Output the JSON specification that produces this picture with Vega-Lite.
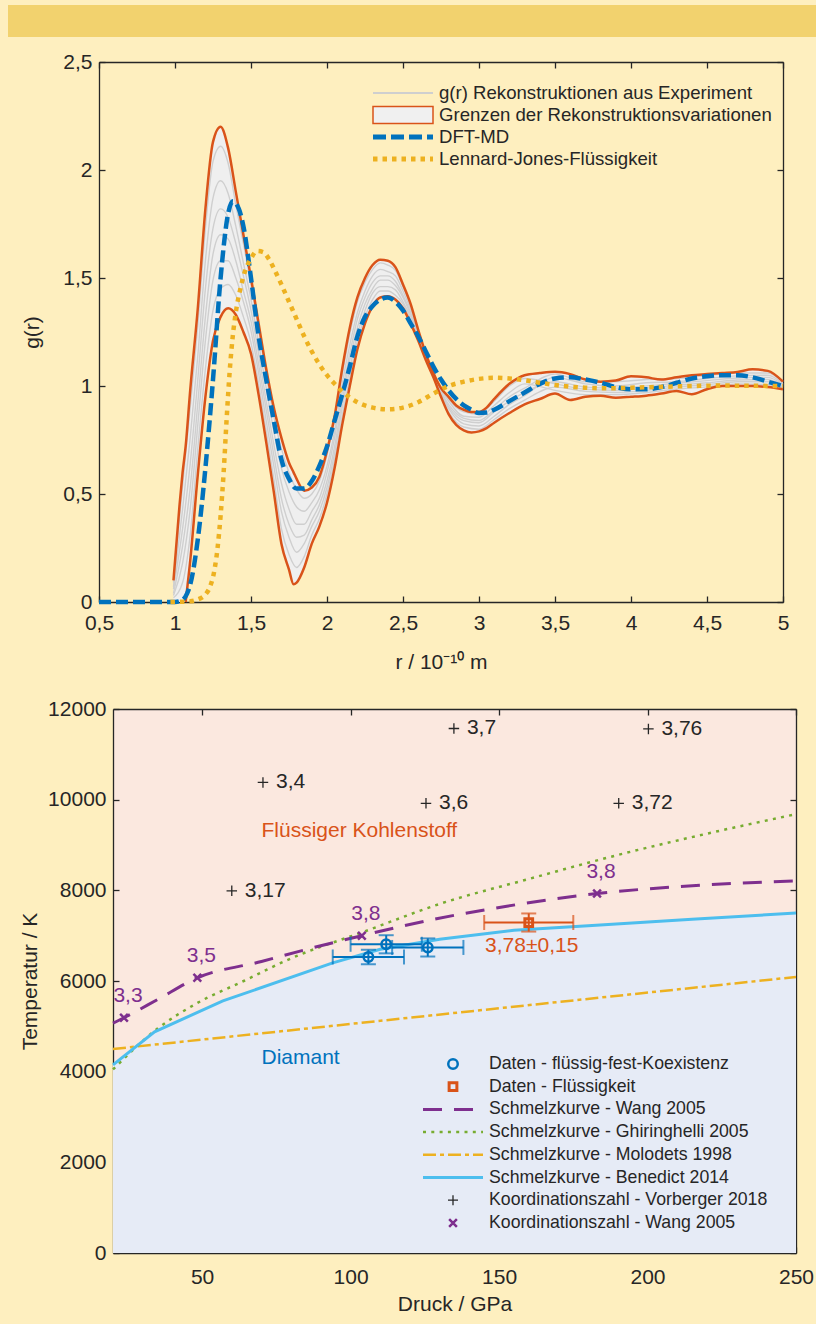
{
  "$schema": "https://vega.github.io/schema/vega-lite/v6.json",
  "background": "#feefbf",
  "padding": {"left": 8, "top": 5, "right": 0, "bottom": 14},
  "spacing": 14,
  "resolve": {"scale": {"color": "independent"}, "legend": {"color": "independent"}},
  "config": {
    "font": "Liberation Sans",
    "view": {"stroke": null},
    "axis": {"labelFont": "Liberation Sans", "titleFont": "Liberation Sans", "labelColor": "#262626", "titleColor": "#262626", "domainColor": "#262626", "tickColor": "#262626", "titleFontWeight": "normal", "grid": false, "domainWidth": 1.3, "tickWidth": 1.3, "tickSize": -6, "labelFontSize": 21, "titleFontSize": 21, "labelPadding": 13, "labelFlush": false}
  },
  "datasets": {
    "env": [
      {"r":0.99,"u":0.10,"l":0},{"r":1.03,"u":0.45,"l":0},{"r":1.05,"u":0.60,"l":0},{"r":1.07,"u":0.72,"l":0},
      {"r":1.1,"u":0.98,"l":0.19},{"r":1.15,"u":1.36,"l":0.59},{"r":1.2,"u":1.82,"l":0.95},{"r":1.25,"u":2.13,"l":1.21},
      {"r":1.3,"u":2.20,"l":1.32},{"r":1.35,"u":2.10,"l":1.36},{"r":1.4,"u":1.90,"l":1.33},{"r":1.45,"u":1.70,"l":1.25},
      {"r":1.5,"u":1.50,"l":1.15},{"r":1.55,"u":1.29,"l":0.96},{"r":1.6,"u":1.08,"l":0.74},{"r":1.65,"u":0.90,"l":0.51},
      {"r":1.7,"u":0.76,"l":0.27},{"r":1.75,"u":0.645,"l":0.15},{"r":1.78,"u":0.60,"l":0.082},{"r":1.8,"u":0.57,"l":0.09},
      {"r":1.85,"u":0.515,"l":0.16},{"r":1.9,"u":0.53,"l":0.27},{"r":1.95,"u":0.58,"l":0.35},{"r":2.0,"u":0.70,"l":0.46},
      {"r":2.05,"u":0.86,"l":0.62},{"r":2.1,"u":1.08,"l":0.82},{"r":2.15,"u":1.27,"l":1.0},{"r":2.2,"u":1.41,"l":1.17},
      {"r":2.25,"u":1.50,"l":1.29},{"r":2.3,"u":1.56,"l":1.37},{"r":2.35,"u":1.585,"l":1.41},{"r":2.4,"u":1.58,"l":1.415},
      {"r":2.45,"u":1.55,"l":1.40},{"r":2.5,"u":1.47,"l":1.36},{"r":2.55,"u":1.38,"l":1.29},{"r":2.6,"u":1.26,"l":1.21},
      {"r":2.65,"u":1.15,"l":1.12},{"r":2.7,"u":1.06,"l":1.04},{"r":2.75,"u":0.99,"l":0.95},{"r":2.8,"u":0.95,"l":0.87},
      {"r":2.85,"u":0.91,"l":0.82},{"r":2.9,"u":0.89,"l":0.795},{"r":2.95,"u":0.88,"l":0.785},{"r":3.0,"u":0.88,"l":0.79},
      {"r":3.05,"u":0.90,"l":0.805},{"r":3.1,"u":0.94,"l":0.83},{"r":3.2,"u":1.01,"l":0.875},{"r":3.3,"u":1.05,"l":0.915},
      {"r":3.4,"u":1.06,"l":0.94},{"r":3.5,"u":1.066,"l":0.965},{"r":3.6,"u":1.055,"l":0.935},{"r":3.7,"u":1.03,"l":0.95},
      {"r":3.8,"u":1.02,"l":0.955},{"r":3.9,"u":1.025,"l":0.946},{"r":4.0,"u":1.045,"l":0.95},{"r":4.1,"u":1.04,"l":0.955},
      {"r":4.2,"u":1.03,"l":0.965},{"r":4.3,"u":1.04,"l":0.977},{"r":4.4,"u":1.05,"l":0.962},{"r":4.5,"u":1.055,"l":0.985},
      {"r":4.6,"u":1.06,"l":1.0},{"r":4.7,"u":1.065,"l":1.0},{"r":4.8,"u":1.077,"l":1.0},{"r":4.9,"u":1.07,"l":0.995},
      {"r":5.0,"u":1.02,"l":0.985}
    ],
    "grey": [
      {"r":0.99,"c1":0.09,"c2":0.07,"c3":0.06,"c4":0.04,"c5":0.03,"c6":0.02},
      {"r":1.05,"c1":0.54,"c2":0.43,"c3":0.34,"c4":0.26,"c5":0.18,"c6":0.09},
      {"r":1.1,"c1":0.90,"c2":0.76,"c3":0.64,"c4":0.53,"c5":0.43,"c6":0.31},
      {"r":1.15,"c1":1.28,"c2":1.14,"c3":1.03,"c4":0.92,"c5":0.82,"c6":0.71},
      {"r":1.2,"c1":1.73,"c2":1.58,"c3":1.45,"c4":1.32,"c5":1.21,"c6":1.08},
      {"r":1.25,"c1":2.04,"c2":1.87,"c3":1.73,"c4":1.61,"c5":1.49,"c6":1.35},
      {"r":1.3,"c1":2.11,"c2":1.95,"c3":1.82,"c4":1.70,"c5":1.58,"c6":1.45},
      {"r":1.35,"c1":2.03,"c2":1.89,"c3":1.78,"c4":1.68,"c5":1.58,"c6":1.47},
      {"r":1.4,"c1":1.84,"c2":1.74,"c3":1.66,"c4":1.58,"c5":1.50,"c6":1.42},
      {"r":1.45,"c1":1.66,"c2":1.57,"c3":1.51,"c4":1.44,"c5":1.39,"c6":1.32},
      {"r":1.5,"c1":1.47,"c2":1.40,"c3":1.35,"c4":1.30,"c5":1.255,"c6":1.20},
      {"r":1.55,"c1":1.26,"c2":1.20,"c3":1.15,"c4":1.10,"c5":1.06,"c6":1.01},
      {"r":1.6,"c1":1.05,"c2":0.99,"c3":0.93,"c4":0.89,"c5":0.84,"c6":0.79},
      {"r":1.65,"c1":0.86,"c2":0.79,"c3":0.73,"c4":0.68,"c5":0.63,"c6":0.57},
      {"r":1.7,"c1":0.71,"c2":0.62,"c3":0.55,"c4":0.48,"c5":0.42,"c6":0.34},
      {"r":1.75,"c1":0.60,"c2":0.51,"c3":0.43,"c4":0.36,"c5":0.30,"c6":0.22},
      {"r":1.8,"c1":0.52,"c2":0.44,"c3":0.36,"c4":0.30,"c5":0.23,"c6":0.16},
      {"r":1.85,"c1":0.48,"c2":0.42,"c3":0.36,"c4":0.31,"c5":0.27,"c6":0.21},
      {"r":1.9,"c1":0.50,"c2":0.46,"c3":0.42,"c4":0.38,"c5":0.35,"c6":0.31},
      {"r":1.95,"c1":0.56,"c2":0.52,"c3":0.48,"c4":0.45,"c5":0.42,"c6":0.385},
      {"r":2.0,"c1":0.68,"c2":0.63,"c3":0.60,"c4":0.56,"c5":0.53,"c6":0.50},
      {"r":2.05,"c1":0.84,"c2":0.79,"c3":0.76,"c4":0.72,"c5":0.69,"c6":0.66},
      {"r":2.1,"c1":1.05,"c2":1.01,"c3":0.97,"c4":0.93,"c5":0.90,"c6":0.86},
      {"r":2.15,"c1":1.24,"c2":1.19,"c3":1.15,"c4":1.12,"c5":1.08,"c6":1.04},
      {"r":2.2,"c1":1.39,"c2":1.34,"c3":1.31,"c4":1.27,"c5":1.24,"c6":1.21},
      {"r":2.25,"c1":1.48,"c2":1.44,"c3":1.41,"c4":1.38,"c5":1.35,"c6":1.32},
      {"r":2.3,"c1":1.54,"c2":1.51,"c3":1.48,"c4":1.45,"c5":1.43,"c6":1.40},
      {"r":2.35,"c1":1.57,"c2":1.54,"c3":1.51,"c4":1.49,"c5":1.46,"c6":1.44},
      {"r":2.4,"c1":1.56,"c2":1.53,"c3":1.51,"c4":1.49,"c5":1.46,"c6":1.44},
      {"r":2.45,"c1":1.535,"c2":1.51,"c3":1.485,"c4":1.465,"c5":1.445,"c6":1.42},
      {"r":2.5,"c1":1.46,"c2":1.44,"c3":1.42,"c4":1.41,"c5":1.39,"c6":1.38},
      {"r":2.55,"c1":1.37,"c2":1.355,"c3":1.34,"c4":1.33,"c5":1.32,"c6":1.305},
      {"r":2.6,"c1":1.255,"c2":1.245,"c3":1.24,"c4":1.23,"c5":1.225,"c6":1.22},
      {"r":2.7,"c1":1.06,"c2":1.055,"c3":1.05,"c4":1.05,"c5":1.045,"c6":1.04},
      {"r":2.8,"c1":0.94,"c2":0.93,"c3":0.915,"c4":0.905,"c5":0.895,"c6":0.88},
      {"r":2.9,"c1":0.88,"c2":0.86,"c3":0.85,"c4":0.84,"c5":0.825,"c6":0.81},
      {"r":3.0,"c1":0.87,"c2":0.855,"c3":0.84,"c4":0.83,"c5":0.815,"c6":0.80},
      {"r":3.1,"c1":0.93,"c2":0.91,"c3":0.89,"c4":0.88,"c5":0.86,"c6":0.845},
      {"r":3.2,"c1":1.0,"c2":0.97,"c3":0.95,"c4":0.93,"c5":0.915,"c6":0.895},
      {"r":3.3,"c1":1.035,"c2":1.01,"c3":0.99,"c4":0.97,"c5":0.955,"c6":0.935},
      {"r":3.5,"c1":1.01,"c2":0.98,"c3":1.055,"c4":1.02,"c5":1.04,"c6":0.995},
      {"r":3.7,"c1":0.985,"c2":0.96,"c3":1.02,"c4":0.995,"c5":1.01,"c6":0.975},
      {"r":3.9,"c1":0.98,"c2":0.96,"c3":1.02,"c4":0.99,"c5":1.0,"c6":0.97},
      {"r":4.1,"c1":0.99,"c2":0.97,"c3":1.03,"c4":1.0,"c5":1.015,"c6":0.98},
      {"r":4.3,"c1":1.004,"c2":0.986,"c3":1.034,"c4":1.013,"c5":1.02,"c6":0.996},
      {"r":4.5,"c1":1.015,"c2":0.996,"c3":1.048,"c4":1.025,"c5":1.035,"c6":1.006},
      {"r":4.7,"c1":1.028,"c2":1.01,"c3":1.06,"c4":1.037,"c5":1.047,"c6":1.02},
      {"r":4.9,"c1":1.03,"c2":1.006,"c3":1.06,"c4":1.04,"c5":1.05,"c6":1.02},
      {"r":5.0,"c1":1.0,"c2":0.99,"c3":1.017,"c4":1.005,"c5":1.01,"c6":0.995}
    ],
    "dft": [
      {"r":0.5,"g":0},{"r":1.0,"g":0},{"r":1.05,"g":0.01},{"r":1.08,"g":0.04},{"r":1.1,"g":0.08},{"r":1.15,"g":0.29},
      {"r":1.2,"g":0.62},{"r":1.25,"g":1.03},{"r":1.3,"g":1.50},{"r":1.35,"g":1.80},{"r":1.38,"g":1.855},{"r":1.42,"g":1.82},
      {"r":1.45,"g":1.74},{"r":1.5,"g":1.50},{"r":1.55,"g":1.23},{"r":1.6,"g":1.03},{"r":1.65,"g":0.84},{"r":1.7,"g":0.66},
      {"r":1.75,"g":0.57},{"r":1.8,"g":0.525},{"r":1.85,"g":0.525},{"r":1.9,"g":0.56},{"r":1.95,"g":0.63},{"r":2.0,"g":0.72},
      {"r":2.05,"g":0.84},{"r":2.1,"g":0.96},{"r":2.15,"g":1.09},{"r":2.2,"g":1.23},{"r":2.25,"g":1.32},{"r":2.3,"g":1.37},
      {"r":2.35,"g":1.40},{"r":2.4,"g":1.41},{"r":2.45,"g":1.39},{"r":2.5,"g":1.35},{"r":2.55,"g":1.29},{"r":2.6,"g":1.23},
      {"r":2.65,"g":1.16},{"r":2.7,"g":1.09},{"r":2.75,"g":1.03},{"r":2.8,"g":0.98},{"r":2.85,"g":0.94},{"r":2.9,"g":0.91},
      {"r":2.95,"g":0.89},{"r":3.0,"g":0.875},{"r":3.05,"g":0.877},{"r":3.1,"g":0.89},{"r":3.2,"g":0.93},{"r":3.3,"g":0.97},
      {"r":3.4,"g":1.01},{"r":3.5,"g":1.035},{"r":3.6,"g":1.04},{"r":3.7,"g":1.03},{"r":3.8,"g":1.015},{"r":3.9,"g":0.995},
      {"r":4.0,"g":0.985},{"r":4.1,"g":0.985},{"r":4.2,"g":0.995},{"r":4.3,"g":1.015},{"r":4.4,"g":1.035},{"r":4.5,"g":1.045},
      {"r":4.6,"g":1.05},{"r":4.7,"g":1.05},{"r":4.8,"g":1.04},{"r":4.9,"g":1.02},{"r":5.0,"g":1.0}
    ],
    "lj": [
      {"r":0.97,"g":0},{"r":1.1,"g":0.003},{"r":1.15,"g":0.012},{"r":1.2,"g":0.035},{"r":1.23,"g":0.07},{"r":1.26,"g":0.15},
      {"r":1.28,"g":0.25},{"r":1.3,"g":0.40},{"r":1.32,"g":0.60},{"r":1.34,"g":0.85},{"r":1.36,"g":1.07},{"r":1.38,"g":1.23},
      {"r":1.4,"g":1.34},{"r":1.43,"g":1.45},{"r":1.46,"g":1.53},{"r":1.5,"g":1.59},{"r":1.54,"g":1.625},{"r":1.58,"g":1.62},
      {"r":1.62,"g":1.585},{"r":1.66,"g":1.53},{"r":1.7,"g":1.47},{"r":1.75,"g":1.39},{"r":1.8,"g":1.31},{"r":1.85,"g":1.23},
      {"r":1.9,"g":1.16},{"r":1.95,"g":1.10},{"r":2.0,"g":1.05},{"r":2.05,"g":1.01},{"r":2.1,"g":0.975},{"r":2.2,"g":0.925},
      {"r":2.3,"g":0.90},{"r":2.4,"g":0.892},{"r":2.5,"g":0.90},{"r":2.6,"g":0.925},{"r":2.7,"g":0.965},{"r":2.8,"g":1.0},
      {"r":2.9,"g":1.02},{"r":3.0,"g":1.033},{"r":3.1,"g":1.038},{"r":3.2,"g":1.035},{"r":3.3,"g":1.027},{"r":3.4,"g":1.015},
      {"r":3.5,"g":1.005},{"r":3.6,"g":0.997},{"r":3.7,"g":0.992},{"r":3.8,"g":0.99},{"r":3.9,"g":0.99},{"r":4.0,"g":0.992},
      {"r":4.2,"g":0.996},{"r":4.4,"g":1.0},{"r":4.6,"g":1.002},{"r":4.8,"g":1.001},{"r":5.0,"g":1.0}
    ],
    "ben": [{"P":20,"T":4150},{"P":34,"T":4880},{"P":57,"T":5560},{"P":94,"T":6400},{"P":110,"T":6700},{"P":130,"T":6920},{"P":155,"T":7120},{"P":180,"T":7220},{"P":215,"T":7360},{"P":250,"T":7500}],
    "wang": [{"P":20,"T":5070},{"P":23.7,"T":5190},{"P":35,"T":5590},{"P":48.4,"T":6070},{"P":70,"T":6430},{"P":83,"T":6660},{"P":103.8,"T":7000},{"P":128,"T":7360},{"P":152.6,"T":7650},{"P":183,"T":7930},{"P":210,"T":8080},{"P":250,"T":8210}],
    "ghir": [{"P":20,"T":4050},{"P":35,"T":4950},{"P":48,"T":5500},{"P":64,"T":6000},{"P":80,"T":6500},{"P":105,"T":7100},{"P":130,"T":7700},{"P":160,"T":8250},{"P":190,"T":8780},{"P":220,"T":9250},{"P":250,"T":9680}],
    "mol": [{"P":20,"T":4500},{"P":250,"T":6090}],
    "coex": [{"P":106,"T":6530,"plo":94,"phi":118,"tlo":6370,"thi":6690},{"P":112,"T":6810,"plo":100,"phi":124,"tlo":6610,"thi":7010},{"P":126,"T":6740,"plo":114,"phi":138,"tlo":6540,"thi":6940}],
    "liq": [{"P":160,"T":7290,"plo":145,"phi":175,"tlo":7090,"thi":7490,"label":"3,78±0,15"}],
    "vorb": [{"P":60,"T":7990,"label":"3,17"},{"P":70.5,"T":10380,"label":"3,4"},{"P":125.4,"T":9920,"label":"3,6"},{"P":134.8,"T":11570,"label":"3,7"},{"P":190.3,"T":9920,"label":"3,72"},{"P":200.3,"T":11560,"label":"3,76"}],
    "wangc": [{"P":23.7,"T":5190,"label":"3,3"},{"P":48.4,"T":6070,"label":"3,5"},{"P":103.8,"T":7000,"label":"3,8"},{"P":183,"T":7930,"label":"3,8"}]
  },
  "vconcat": [
    {
      "width": 808, "height": 32,
      "view": {"fill": "#f2d26e", "stroke": null},
      "data": {"values": []},
      "mark": "point",
      "encoding": {}
    },
    {
      "spacing": 26,
      "resolve": {"scale": {"color": "independent"}, "legend": {"color": "independent"}},
      "vconcat": [
        {
          "spacing": 0,
          "hconcat": [
            {"width": 1, "height": 1, "data": {"values": []}, "mark": "point", "encoding": {}},
            {
              "width": 684, "height": 540,
              "layer": [
                {
                  "data": {"name": "env"},
                  "mark": {"type": "area", "color": "#efefef", "opacity": 1, "interpolate": "monotone"},
                  "encoding": {
                    "x": {"field": "r", "type": "quantitative", "scale": {"domain": [0.5, 5], "nice": false},
                      "axis": {"orient": "bottom", "values": [0.5,1,1.5,2,2.5,3,3.5,4,4.5,5], "labelExpr": "replace(format(datum.value, '~g'), '.', ',')", "title": "r / 10⁻¹⁰ m", "labelPadding": 16, "titlePadding": 18}},
                    "y": {"field": "u", "type": "quantitative", "scale": {"domain": [0, 2.5], "nice": false},
                      "axis": {"orient": "left", "values": [0,0.5,1,1.5,2,2.5], "labelExpr": "replace(format(datum.value, '~g'), '.', ',')", "title": ["", "g(r)"], "titleX": -69, "titleY": 270, "titleAngle": 270, "titleBaseline": "bottom", "titleAlign": "center", "titleLineHeight": 12.5}},
                    "y2": {"field": "l"}
                  }
                },
                {
                  "data": {"values": [{}]},
                  "mark": {"type": "point", "opacity": 0},
                  "encoding": {
                    "x": {"datum": 1, "type": "quantitative", "axis": {"orient": "top", "values": [0.5,1,1.5,2,2.5,3,3.5,4,4.5,5], "labels": false, "title": null}},
                    "y": {"datum": 1, "type": "quantitative", "axis": {"orient": "right", "values": [0,0.5,1,1.5,2,2.5], "labels": false, "title": null}}
                  }
                },
                {
                  "data": {"name": "grey"},
                  "transform": [{"fold": ["c1","c2","c3","c4","c5","c6"], "as": ["curve", "g"]}],
                  "mark": {"type": "line", "strokeWidth": 1.4, "interpolate": "monotone"},
                  "encoding": {
                    "x": {"field": "r", "type": "quantitative", "axis": null},
                    "y": {"field": "g", "type": "quantitative", "axis": null},
                    "detail": {"field": "curve"},
                    "color": {"datum": "g(r) Rekonstruktionen aus Experiment",
                      "scale": {"domain": ["g(r) Rekonstruktionen aus Experiment", "Grenzen der Rekonstruktionsvariationen", "DFT-MD", "Lennard-Jones-Flüssigkeit"], "range": ["#cfcfcf", "#d95319", "#0072bd", "#edb120"]},
                      "legend": {"title": null, "orient": "none", "legendX": 364, "legendY": 20, "symbolSize": 3600, "clipHeight": 22, "rowPadding": 0, "labelFontSize": 18.6, "labelFont": "Liberation Sans", "labelColor": "#262626", "labelLimit": 600, "symbolStrokeWidth": 1.5,
                        "encode": {
                          "symbols": {"update": {
                            "x": {"value": 31},
                            "shape": {"signal": "['M-1,0H1','M-1,-0.28H1V0.28H-1Z','M-1,0H1','M-1,0H1'][datum.index]"},
                            "fill": {"signal": "['transparent','#f0f0f0','transparent','transparent'][datum.index]"},
                            "stroke": {"signal": "['#cfcfcf','#e06a40','#0072bd','#edb120'][datum.index]"},
                            "strokeWidth": {"signal": "[2,1.5,5,5][datum.index]"},
                            "strokeDash": {"signal": "[[],[],[13,5],[4.5,5]][datum.index]"},
                            "size": {"value": 3600},
                            "opacity": {"value": 1}
                          }},
                          "labels": {"update": {"x": {"value": 67}}}
                        }
                      }
                    }
                  }
                },
                {
                  "data": {"name": "env"},
                  "mark": {"type": "line", "strokeWidth": 2.5, "interpolate": "monotone"},
                  "encoding": {
                    "x": {"field": "r", "type": "quantitative", "axis": null},
                    "y": {"field": "u", "type": "quantitative", "axis": null},
                    "color": {"datum": "Grenzen der Rekonstruktionsvariationen"}
                  }
                },
                {
                  "data": {"name": "env"},
                  "transform": [{"filter": "datum.r >= 1.07"}],
                  "mark": {"type": "line", "strokeWidth": 2.5, "interpolate": "monotone"},
                  "encoding": {
                    "x": {"field": "r", "type": "quantitative", "axis": null},
                    "y": {"field": "l", "type": "quantitative", "axis": null},
                    "color": {"datum": "Grenzen der Rekonstruktionsvariationen"}
                  }
                },
                {
                  "data": {"name": "dft"},
                  "mark": {"type": "line", "strokeWidth": 4.5, "strokeDash": [12, 5], "interpolate": "monotone"},
                  "encoding": {
                    "x": {"field": "r", "type": "quantitative", "axis": null},
                    "y": {"field": "g", "type": "quantitative", "axis": null},
                    "color": {"datum": "DFT-MD"}
                  }
                },
                {
                  "data": {"name": "lj"},
                  "mark": {"type": "line", "strokeWidth": 4.5, "strokeDash": [4.5, 5], "interpolate": "monotone"},
                  "encoding": {
                    "x": {"field": "r", "type": "quantitative", "axis": null},
                    "y": {"field": "g", "type": "quantitative", "axis": null},
                    "color": {"datum": "Lennard-Jones-Flüssigkeit"}
                  }
                }
              ],
              "resolve": {"axis": {"x": "independent", "y": "independent"}}
            }
          ]
        },
        {
          "spacing": 0,
          "hconcat": [
            {"width": 1, "height": 1, "data": {"values": []}, "mark": "point", "encoding": {}},
            {
              "width": 683, "height": 544,
              "view": {"fill": "#fbe8df", "stroke": null},
              "layer": [
                {
                  "data": {"name": "ben"},
                  "mark": {"type": "area", "color": "#e6ebf6", "opacity": 1},
                  "encoding": {
                    "x": {"field": "P", "type": "quantitative", "scale": {"domain": [20, 250], "nice": false},
                      "axis": {"orient": "bottom", "values": [50,100,150,200,250], "format": "d", "title": "Druck / GPa", "labelPadding": 19, "titlePadding": 6}},
                    "y": {"field": "T", "type": "quantitative", "scale": {"domain": [0, 12000], "nice": false},
                      "axis": {"orient": "left", "values": [0,2000,4000,6000,8000,10000,12000], "format": "d", "title": ["", "Temperatur / K"], "titleX": -83, "titleY": 272, "titleAngle": 270, "titleBaseline": "bottom", "titleAlign": "center", "titleLineHeight": 10.5}}
                  }
                },
                {
                  "data": {"values": [{}]},
                  "mark": {"type": "point", "opacity": 0},
                  "encoding": {
                    "x": {"datum": 100, "type": "quantitative", "axis": {"orient": "top", "values": [50,100,150,200,250], "labels": false, "title": null}},
                    "y": {"datum": 5000, "type": "quantitative", "axis": {"orient": "right", "values": [0,2000,4000,6000,8000,10000,12000], "labels": false, "title": null}}
                  }
                },
                {
                  "data": {"name": "mol"},
                  "mark": {"type": "line", "strokeWidth": 2.5, "strokeDash": [13, 4, 4, 4]},
                  "encoding": {
                    "x": {"field": "P", "type": "quantitative", "axis": null},
                    "y": {"field": "T", "type": "quantitative", "axis": null},
                    "color": {"datum": "Schmelzkurve - Molodets 1998",
                      "scale": {"domain": ["Daten - flüssig-fest-Koexistenz", "Daten - Flüssigkeit", "Schmelzkurve - Wang 2005", "Schmelzkurve - Ghiringhelli 2005", "Schmelzkurve - Molodets 1998", "Schmelzkurve - Benedict 2014", "Koordinationszahl - Vorberger 2018", "Koordinationszahl - Wang 2005"], "range": ["#0072bd", "#d95319", "#7e2f8e", "#77ac30", "#edb120", "#4dbeee", "#262626", "#7e2f8e"]},
                      "legend": {"title": null, "orient": "none", "legendX": 414, "legendY": 344, "symbolSize": 3600, "clipHeight": 22, "rowPadding": 0.7, "labelFontSize": 17.7, "labelFont": "Liberation Sans", "labelColor": "#262626", "labelLimit": 600, "symbolStrokeWidth": 1.5,
                        "encode": {
                          "symbols": {"update": {
                            "x": {"value": 31},
                            "shape": {"signal": "['circle','square','M-1,0H1','M-1,0H1','M-1,0H1','M-1,0H1','M-1,0H1M0,-1V1','M-1,-1L1,1M-1,1L1,-1'][datum.index]"},
                            "size": {"signal": "[90,60,3600,3600,3600,3600,100,60][datum.index]"},
                            "fill": {"value": "transparent"},
                            "stroke": {"signal": "['#0072bd','#d95319','#7e2f8e','#77ac30','#edb120','#4dbeee','#262626','#7e2f8e'][datum.index]"},
                            "strokeWidth": {"signal": "[2.5,3,3,2.5,2.5,3,1.3,2.5][datum.index]"},
                            "strokeDash": {"signal": "[[],[],[19,12],[3,5.3],[13,4,4,4],[],[],[]][datum.index]"},
                            "opacity": {"value": 1}
                          }},
                          "labels": {"update": {"x": {"value": 67}}}
                        }
                      }
                    }
                  }
                },
                {
                  "data": {"name": "ghir"},
                  "mark": {"type": "line", "strokeWidth": 2.5, "strokeDash": [3, 5.3], "interpolate": "monotone"},
                  "encoding": {
                    "x": {"field": "P", "type": "quantitative", "axis": null},
                    "y": {"field": "T", "type": "quantitative", "axis": null},
                    "color": {"datum": "Schmelzkurve - Ghiringhelli 2005"}
                  }
                },
                {
                  "data": {"name": "wang"},
                  "mark": {"type": "line", "strokeWidth": 3, "strokeDash": [19, 12], "interpolate": "monotone"},
                  "encoding": {
                    "x": {"field": "P", "type": "quantitative", "axis": null},
                    "y": {"field": "T", "type": "quantitative", "axis": null},
                    "color": {"datum": "Schmelzkurve - Wang 2005"}
                  }
                },
                {
                  "data": {"name": "ben"},
                  "mark": {"type": "line", "strokeWidth": 3},
                  "encoding": {
                    "x": {"field": "P", "type": "quantitative", "axis": null},
                    "y": {"field": "T", "type": "quantitative", "axis": null},
                    "color": {"datum": "Schmelzkurve - Benedict 2014"}
                  }
                },
                {
                  "data": {"name": "coex"},
                  "mark": {"type": "errorbar", "color": "#0072bd", "thickness": 2, "ticks": {"size": 15, "thickness": 2}},
                  "encoding": {
                    "x": {"field": "plo", "type": "quantitative", "axis": null},
                    "x2": {"field": "phi"},
                    "y": {"field": "T", "type": "quantitative", "axis": null}
                  }
                },
                {
                  "data": {"name": "coex"},
                  "mark": {"type": "errorbar", "color": "#0072bd", "thickness": 2, "ticks": {"size": 15, "thickness": 2}},
                  "encoding": {
                    "y": {"field": "tlo", "type": "quantitative", "axis": null},
                    "y2": {"field": "thi"},
                    "x": {"field": "P", "type": "quantitative", "axis": null}
                  }
                },
                {
                  "data": {"name": "liq"},
                  "mark": {"type": "errorbar", "color": "#d95319", "thickness": 2, "ticks": {"size": 15, "thickness": 2}},
                  "encoding": {
                    "x": {"field": "plo", "type": "quantitative", "axis": null},
                    "x2": {"field": "phi"},
                    "y": {"field": "T", "type": "quantitative", "axis": null}
                  }
                },
                {
                  "data": {"name": "liq"},
                  "mark": {"type": "errorbar", "color": "#d95319", "thickness": 2, "ticks": {"size": 15, "thickness": 2}},
                  "encoding": {
                    "y": {"field": "tlo", "type": "quantitative", "axis": null},
                    "y2": {"field": "thi"},
                    "x": {"field": "P", "type": "quantitative", "axis": null}
                  }
                },
                {
                  "data": {"name": "coex"},
                  "mark": {"type": "point", "shape": "circle", "filled": false, "size": 90, "strokeWidth": 2.5, "opacity": 1},
                  "encoding": {
                    "x": {"field": "P", "type": "quantitative", "axis": null},
                    "y": {"field": "T", "type": "quantitative", "axis": null},
                    "color": {"datum": "Daten - flüssig-fest-Koexistenz"}
                  }
                },
                {
                  "data": {"name": "liq"},
                  "mark": {"type": "point", "shape": "square", "filled": false, "size": 60, "strokeWidth": 3, "opacity": 1},
                  "encoding": {
                    "x": {"field": "P", "type": "quantitative", "axis": null},
                    "y": {"field": "T", "type": "quantitative", "axis": null},
                    "color": {"datum": "Daten - Flüssigkeit"}
                  }
                },
                {
                  "data": {"name": "vorb"},
                  "mark": {"type": "point", "shape": "M-1,0H1M0,-1V1", "filled": false, "size": 110, "strokeWidth": 1.3, "opacity": 1},
                  "encoding": {
                    "x": {"field": "P", "type": "quantitative", "axis": null},
                    "y": {"field": "T", "type": "quantitative", "axis": null},
                    "color": {"datum": "Koordinationszahl - Vorberger 2018"}
                  }
                },
                {
                  "data": {"name": "wangc"},
                  "mark": {"type": "point", "shape": "M-1,-1L1,1M-1,1L1,-1", "filled": false, "size": 60, "strokeWidth": 2.5, "opacity": 1},
                  "encoding": {
                    "x": {"field": "P", "type": "quantitative", "axis": null},
                    "y": {"field": "T", "type": "quantitative", "axis": null},
                    "color": {"datum": "Koordinationszahl - Wang 2005"}
                  }
                },
                {
                  "data": {"name": "vorb"},
                  "mark": {"type": "text", "align": "left", "baseline": "middle", "dx": 13, "fontSize": 21, "color": "#262626"},
                  "encoding": {
                    "x": {"field": "P", "type": "quantitative", "axis": null},
                    "y": {"field": "T", "type": "quantitative", "axis": null},
                    "text": {"field": "label"}
                  }
                },
                {
                  "data": {"name": "wangc"},
                  "mark": {"type": "text", "align": "center", "baseline": "middle", "dx": 4, "dy": -22, "fontSize": 21, "color": "#7e2f8e"},
                  "encoding": {
                    "x": {"field": "P", "type": "quantitative", "axis": null},
                    "y": {"field": "T", "type": "quantitative", "axis": null},
                    "text": {"field": "label"}
                  }
                },
                {
                  "data": {"name": "liq"},
                  "mark": {"type": "text", "align": "center", "baseline": "middle", "dx": 3, "dy": 23, "fontSize": 21, "color": "#d95319"},
                  "encoding": {
                    "x": {"field": "P", "type": "quantitative", "axis": null},
                    "y": {"field": "T", "type": "quantitative", "axis": null},
                    "text": {"field": "label"}
                  }
                },
                {
                  "data": {"values": [{"P": 70, "T": 9300, "label": "Flüssiger Kohlenstoff"}]},
                  "mark": {"type": "text", "align": "left", "baseline": "middle", "fontSize": 21, "color": "#d95319"},
                  "encoding": {
                    "x": {"field": "P", "type": "quantitative", "axis": null},
                    "y": {"field": "T", "type": "quantitative", "axis": null},
                    "text": {"field": "label"}
                  }
                },
                {
                  "data": {"values": [{"P": 70, "T": 4300, "label": "Diamant"}]},
                  "mark": {"type": "text", "align": "left", "baseline": "middle", "fontSize": 21, "color": "#0072bd"},
                  "encoding": {
                    "x": {"field": "P", "type": "quantitative", "axis": null},
                    "y": {"field": "T", "type": "quantitative", "axis": null},
                    "text": {"field": "label"}
                  }
                }
              ],
              "resolve": {"axis": {"x": "independent", "y": "independent"}}
            }
          ]
        }
      ]
    }
  ]
}
